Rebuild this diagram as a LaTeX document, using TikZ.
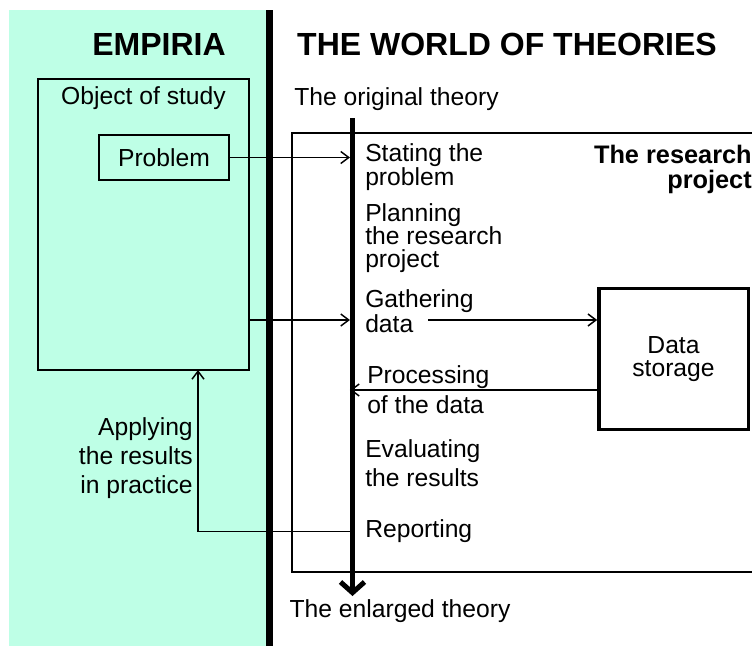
\documentclass[tikz,border=0pt]{standalone}
\usepackage{fontspec}
\setmainfont{Liberation Sans}
\usetikzlibrary{arrows.meta, positioning}
\definecolor{empiria}{RGB}{190,255,230}
\tikzset{
  link/.style={draw, line width=1.1pt, -{Straight Barb[length=6pt,width=9pt]}}, % thin connectors, open heads
  panel/.style={draw, line width=1.1pt, inner sep=0pt, align=center}, % framed boxes
  txt/.style={inner sep=0pt, font=\fontsize{18.5}{17.5}\selectfont}, % ordinary labels
  stage/.style={txt, anchor=west, align=left}, % steps of the project
  heading/.style={inner sep=0pt, font=\fontsize{24}{28}\selectfont\bfseries},
}

\begin{document}
\begin{tikzpicture}[x=0.75pt, y=-0.75pt]
  \clip (0,0) rectangle (752,646);
  \fill[empiria] (9,10) rectangle (266,646);
  \fill (266,10) rectangle (273,646);

  \node[heading] (emp) at (159,44.5) {EMPIRIA};
  \node[heading] (world) at (507,44.5) {THE WORLD OF THEORIES};

  \node[panel, minimum width=158.25pt, minimum height=218.25pt] (obj) at (143.5,224.5) {};
  \node[txt, below=6.4pt of obj.north] (objlab) {Object of study};
  \node[panel, txt, draw, line width=1.1pt, minimum width=97.5pt, minimum height=33.75pt] (prob) at (164,157.5) {Problem};

  \draw[line width=1.1pt] (292,133) rectangle (800,572);
  \node[txt, font=\fontsize{19}{18.75}\selectfont\bfseries, align=right, anchor=east] (proj) at (752,169) {The research\\project};

  \node[txt] (orig) at (396.5,99.4) {The original theory};
  \node[txt] (enl) at (400,611.4) {The enlarged theory};
  \coordinate (ttop) at (352.5,118);
  \coordinate (tbot) at (352.5,596);

  \node[stage] (stat) at (365,167) {Stating the\\problem};
  \node[stage] (plan) at (365,238) {Planning\\the research\\project};
  \node[stage] (gath) at (365,311) {Gathering\\[1.25pt]data};
  \node[stage] (proc) at (367,390) {Processing\\[5pt]of the data};
  \node[stage] (eval) at (365,463) {Evaluating\\[4.25pt]the results};
  \node[stage] (rep) at (365,531.4) {Reporting};

  \node[panel, txt, draw, line width=2.5pt, minimum width=112pt, minimum height=105.5pt] (store) at (673.5,359) {Data\\storage};

  \node[txt, font=\fontsize{18.5}{21.5}\selectfont, align=right, anchor=east] (appl) at (193,458) {Applying\\the results\\in practice};

  \coordinate (gout) at (428,320);
  \coordinate (use) at (198,370);

  \draw[link, shorten >=1.9pt] (prob) -- (prob -| ttop);
  \draw[link, shorten >=1.9pt] (obj.east |- gout) -- (ttop |- gout);
  \draw[link] (gout) -- (store.west |- gout);
  \draw[link, shorten >=-1.9pt] (store.west |- proc) -- (ttop |- proc);
  \draw[link] (ttop |- rep) -| (use);
  \draw[line width=3.75pt, -{Straight Barb[length=8pt,width=18pt]}] (ttop) -- (tbot);
\end{tikzpicture}
\end{document}
